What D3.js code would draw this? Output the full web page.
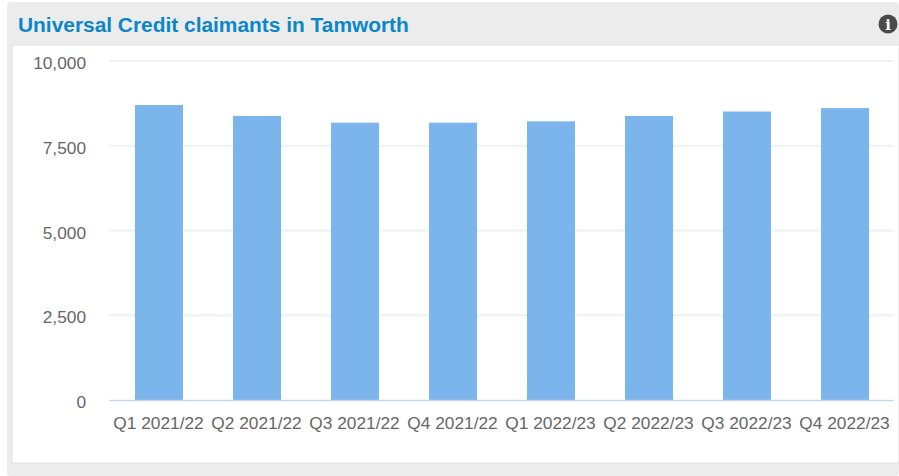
<!DOCTYPE html>
<html>
<head>
<meta charset="utf-8">
<title>Universal Credit claimants in Tamworth</title>
<script src="https://cdn.jsdelivr.net/npm/d3@7"></script>
<style>
  html, body { margin: 0; padding: 0; background: #fff; overflow: hidden; }
  svg { display: block; font-family: "Liberation Sans", Arial, sans-serif; }
</style>
</head>
<body>
<svg id="chart" width="899" height="476"></svg>
<script>
const categories = ['Q1 2021/22', 'Q2 2021/22', 'Q3 2021/22', 'Q4 2021/22', 'Q1 2022/23', 'Q2 2022/23', 'Q3 2022/23', 'Q4 2022/23'];
const claimants = [8700, 8380, 8180, 8180, 8220, 8380, 8510, 8610];
const yTicks = [0, 2500, 5000, 7500, 10000];

const svg = d3.select('#chart');

// panel frame
svg.append('rect').attr('x', 7).attr('y', 2).attr('width', 892).attr('height', 474).attr('rx', 4).attr('fill', '#ececec');
svg.append('rect').attr('x', 12).attr('y', 45).attr('width', 887).attr('height', 418).attr('fill', '#fff')
  .attr('stroke', '#e2e2e2').attr('stroke-width', 1);

svg.append('text')
  .attr('x', 18).attr('y', 32)
  .attr('font-size', 20.9).attr('font-weight', 'bold')
  .attr('fill', '#0b87c9')
  .text('Universal Credit claimants in Tamworth');

// info icon
const icon = svg.append('g').attr('transform', 'translate(888,24)');
icon.append('circle').attr('r', 9.5).attr('fill', '#4a4a4a');
icon.append('text').attr('y', 5.5).attr('text-anchor', 'middle')
  .attr('font-family', '"DejaVu Serif", serif').attr('font-weight', 'bold')
  .attr('font-size', 15).attr('fill', '#fff').text('i');

const x = d3.scaleBand().domain(categories).range([110, 894]).paddingInner(0.51).paddingOuter(0.255);
const y = d3.scaleLinear().domain([0, 10000]).range([400, 61]);

// gridlines
svg.append('g')
  .selectAll('line')
  .data(yTicks.filter(d => d > 0))
  .enter()
  .append('line')
  .attr('x1', 109).attr('x2', 894)
  .attr('y1', d => y(d)).attr('y2', d => y(d))
  .attr('stroke', '#f0f0f0').attr('stroke-width', 2);

// bars
svg.append('g')
  .selectAll('rect')
  .data(claimants)
  .enter()
  .append('rect')
  .attr('x', (d, i) => x(categories[i]))
  .attr('y', d => y(d))
  .attr('width', x.bandwidth())
  .attr('height', d => y(0) - y(d))
  .attr('fill', '#7cb5ec');

// baseline
svg.append('line')
  .attr('x1', 109).attr('x2', 894).attr('y1', 400.5).attr('y2', 400.5)
  .attr('stroke', '#ccd6eb').attr('stroke-width', 1.5);

// y axis
const yAxis = svg.append('g')
  .attr('transform', 'translate(86,2)')
  .call(d3.axisLeft(y).tickValues(yTicks).tickSize(0).tickPadding(0).tickFormat(d3.format(',')));
yAxis.select('.domain').remove();
yAxis.selectAll('text').attr('font-size', 17.3).attr('font-family', '"Liberation Sans", Arial, sans-serif').attr('fill', '#666');

// x axis
const xAxis = svg.append('g')
  .attr('transform', 'translate(-0.5,400)')
  .call(d3.axisBottom(x).tickSize(0).tickPadding(17));
xAxis.select('.domain').remove();
xAxis.selectAll('text').attr('font-size', 17.3).attr('font-family', '"Liberation Sans", Arial, sans-serif').attr('fill', '#666');
</script>
</body>
</html>
